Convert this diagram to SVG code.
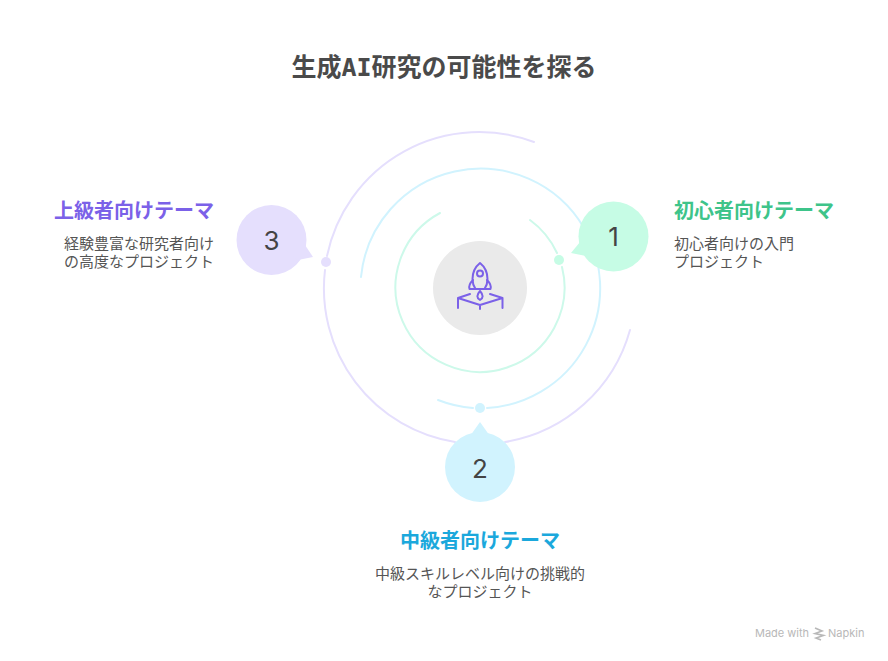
<svg xmlns="http://www.w3.org/2000/svg" width="888" height="661" viewBox="0 0 888 661">
<style>
text{font-family:"Noto Sans CJK JP","Noto Sans",sans-serif}
.t{font-size:25px;font-weight:700;fill:#4a4a4a;text-anchor:middle}
.h{font-size:20px;font-weight:700}
.b{font-size:15px;fill:#555}
.n{font-family:Inter,"Noto Sans",sans-serif;font-size:26px;font-weight:400;fill:#444;text-anchor:middle}
.r{fill:none;stroke-width:2;stroke-linecap:round}
.i{fill:none;stroke:#7b61e8;stroke-width:2;stroke-linecap:round;stroke-linejoin:round}
.w{font-family:Inter,sans-serif;font-size:11px;fill:#b8b8b8}
</style>
<rect width="888" height="661" fill="#fff"/>
<text class="t" x="444" y="76">生成<tspan style="font-family:'DejaVu Sans Mono',monospace" font-size="25">AI</tspan>研究の可能性を探る</text>
<g id="connectors">
<path class="r" stroke="#cdf9ea" d="M440 213A84.500 84.500 0 1 0 562 267M557 253A84.500 84.500 0 0 0 530 220"/>
<path class="r" stroke="#d1f3fe" d="M438 400A120 120 0 0 0 473 408M487 408A120 120 0 0 0 584 228A120 120 0 0 0 361 277"/>
<path class="r" stroke="#e5dffd" d="M534 142A155.500 155.500 0 0 0 327 256M325 270A155.500 155.500 0 0 0 455 442M505 442A155.500 155.500 0 0 0 630 330"/>
</g>
<g id="hub">
<circle cx="480" cy="288" r="47" fill="#eaeaea"/>
<path class="i" d="M480 263C475 267 472.500 273 472.500 279C472.500 283 473.500 286 475.500 289H484.500C486.500 286 487.500 283 487.500 279C487.500 273 485 267 480 263Z"/>
<circle class="i" cx="480" cy="273.500" r="3"/>
<path class="i" d="M473 280C470 283 468.500 286 469.500 289H475.500M487 280C490 283 491.500 286 490.500 289H484.500M480 291C476.500 295 476.500 298 480 300C483.500 298 483.500 295 480 291Z"/>
<path class="i" d="M458 308V298L470 294M502.500 308V298L490 294M458 298L480 305L502.500 298M480 305V309"/>
</g>
<g id="node1">
<circle cx="559" cy="260" r="5" fill="#c6fce5"/>
<circle cx="613.500" cy="236.500" r="35" fill="#c6fce5"/>
<path fill="#c6fce5" d="M580 242L571 253L586 256L600 250Z"/>
<text class="n" x="613.500" y="246">1</text>
<text class="h" x="674" y="218" fill="#3ec48a">初心者向けテーマ</text>
<text class="b" x="674" y="249">初心者向けの入門</text>
<text class="b" x="674" y="267">プロジェクト</text>
</g>
<g id="node2">
<circle cx="480" cy="408" r="5" fill="#d1f3fe"/>
<circle cx="480" cy="467" r="35" fill="#d1f3fe"/>
<path fill="#d1f3fe" d="M480 422L488.500 434H471.500Z"/>
<text class="n" x="480" y="478">2</text>
<text class="h" x="480" y="548" fill="#1ba8dc" text-anchor="middle">中級者向けテーマ</text>
<text class="b" x="480" y="579" text-anchor="middle">中級スキルレベル向けの挑戦的</text>
<text class="b" x="480" y="597" text-anchor="middle">なプロジェクト</text>
</g>
<g id="node3">
<circle cx="326" cy="262" r="5" fill="#e5dffd"/>
<circle cx="271.500" cy="240" r="35" fill="#e5dffd"/>
<path fill="#e5dffd" d="M305 245L313 257L298 260L285 250Z"/>
<text class="n" x="271.500" y="250">3</text>
<text class="h" x="214" y="218" fill="#7b61e8" text-anchor="end">上級者向けテーマ</text>
<text class="b" x="214" y="249" text-anchor="end">経験豊富な研究者向け</text>
<text class="b" x="214" y="267" text-anchor="end">の高度なプロジェクト</text>
</g>
<g id="watermark">
<text class="w" x="755" y="637">Made with</text>
<path d="M815 628L822 631L815 633.500L823.500 635.500L816 638L821 640" fill="none" stroke="#b8b8b8" stroke-width="1.600"/>
<text class="w" x="828" y="637">Napkin</text>
</g>
</svg>
